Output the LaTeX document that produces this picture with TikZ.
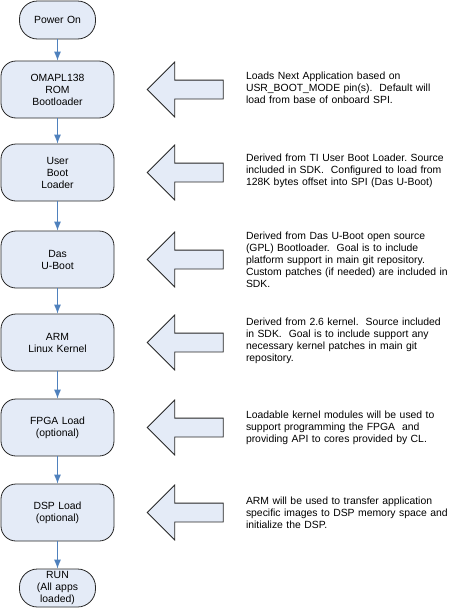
\documentclass[tikz,border=0pt]{standalone}
\usepackage{fontspec}
\setmainfont{Liberation Sans}
\frenchspacing
\usetikzlibrary{positioning,shapes.arrows,arrows.meta}
\definecolor{boxfill}{RGB}{228,235,247}
\definecolor{flowblue}{RGB}{79,129,189}
\tikzstyle{stage} = [draw=black!85, fill=boxfill, rounded corners=15pt,
    minimum width=113pt, minimum height=57pt, text width=104pt,
    align=center, inner sep=1pt, line width=0.8pt]
\tikzstyle{endpoint} = [stage, rounded corners=18pt, minimum width=76pt,
    minimum height=38pt, text width=74pt, inner sep=0pt]
\tikzstyle{flow} = [draw=flowblue, line width=0.9pt, -{Latex[length=9pt,width=7pt]}]
\tikzstyle{hint} = [draw=black!85, fill=boxfill, single arrow, shape border rotate=180,
    single arrow head extend=18pt, minimum height=76pt, inner xsep=0pt,
    inner ysep=9pt, line width=0.8pt]
\tikzstyle{note} = [text width=220pt, align=left, inner sep=0pt]
\begin{document}
\begin{tikzpicture}[x=1pt, y=1pt, node distance=85pt, font=\fontsize{10.4}{12}\selectfont]
    \useasboundingbox (0,0) rectangle (452,-608);
    % boot chain
    \node [endpoint] (poweron) at (57.5,-20) {Power On};
    \node [stage, below of=poweron, node distance=69.5pt] (rom) {OMAPL138\\ROM\\Bootloader};
    \node [stage, below of=rom, node distance=83pt] (ubl) {User\\Boot\\Loader};
    \node [stage, below of=ubl, node distance=87pt] (uboot) {Das\\U-Boot};
    \node [stage, below of=uboot, node distance=83pt] (kernel) {ARM\\Linux Kernel};
    \node [stage, below of=kernel] (fpga) {FPGA Load\\(optional)};
    \node [stage, below of=fpga] (dsp) {DSP Load\\(optional)};
    \node [endpoint, below of=dsp, node distance=75.5pt] (run) {RUN\\(All apps\\loaded)};
    \foreach \a/\b in {poweron/rom, rom/ubl, ubl/uboot, uboot/kernel, kernel/fpga, fpga/dsp, dsp/run}
        \draw [flow] (\a) -- (\b);
    % side arrows
    \foreach \s in {rom, ubl, uboot, kernel, fpga, dsp}
        \node [hint, right of=\s, node distance=132.5pt] (\s arrow) {};
    % notes
    \node [note, right of=rom, node distance=298.5pt, yshift=2pt] (romnote)
        {Loads Next Application based on\\USR\_BOOT\_MODE pin(s).\ \ Default will\\load from base of onboard SPI.};
    \node [note, right of=ubl, node distance=298.5pt, yshift=2pt] (ublnote)
        {Derived from TI User Boot Loader. Source\\included in SDK.\ \ Configured to load from\\128K bytes offset into SPI (Das U-Boot)};
    \node [note, right of=uboot, node distance=298.5pt] (ubootnote)
        {Derived from Das U-Boot open source\\(GPL) Bootloader.\ \ Goal is to include\\platform support in main git repository.\\Custom patches (if needed) are included in\\SDK.};
    \node [note, right of=kernel, node distance=298.5pt, yshift=2pt] (kernelnote)
        {Derived from 2.6 kernel.\ \ Source included\\in SDK.\ \ Goal is to include support any\\necessary kernel patches in main git\\repository.};
    \node [note, right of=fpga, node distance=298.5pt] (fpganote)
        {Loadable kernel modules will be used to\\support programming the FPGA\ \ and\\providing API to cores provided by CL.};
    \node [note, right of=dsp, node distance=298.5pt] (dspnote)
        {ARM will be used to transfer application\\specific images to DSP memory space and\\initialize the DSP.};
\end{tikzpicture}
\end{document}
